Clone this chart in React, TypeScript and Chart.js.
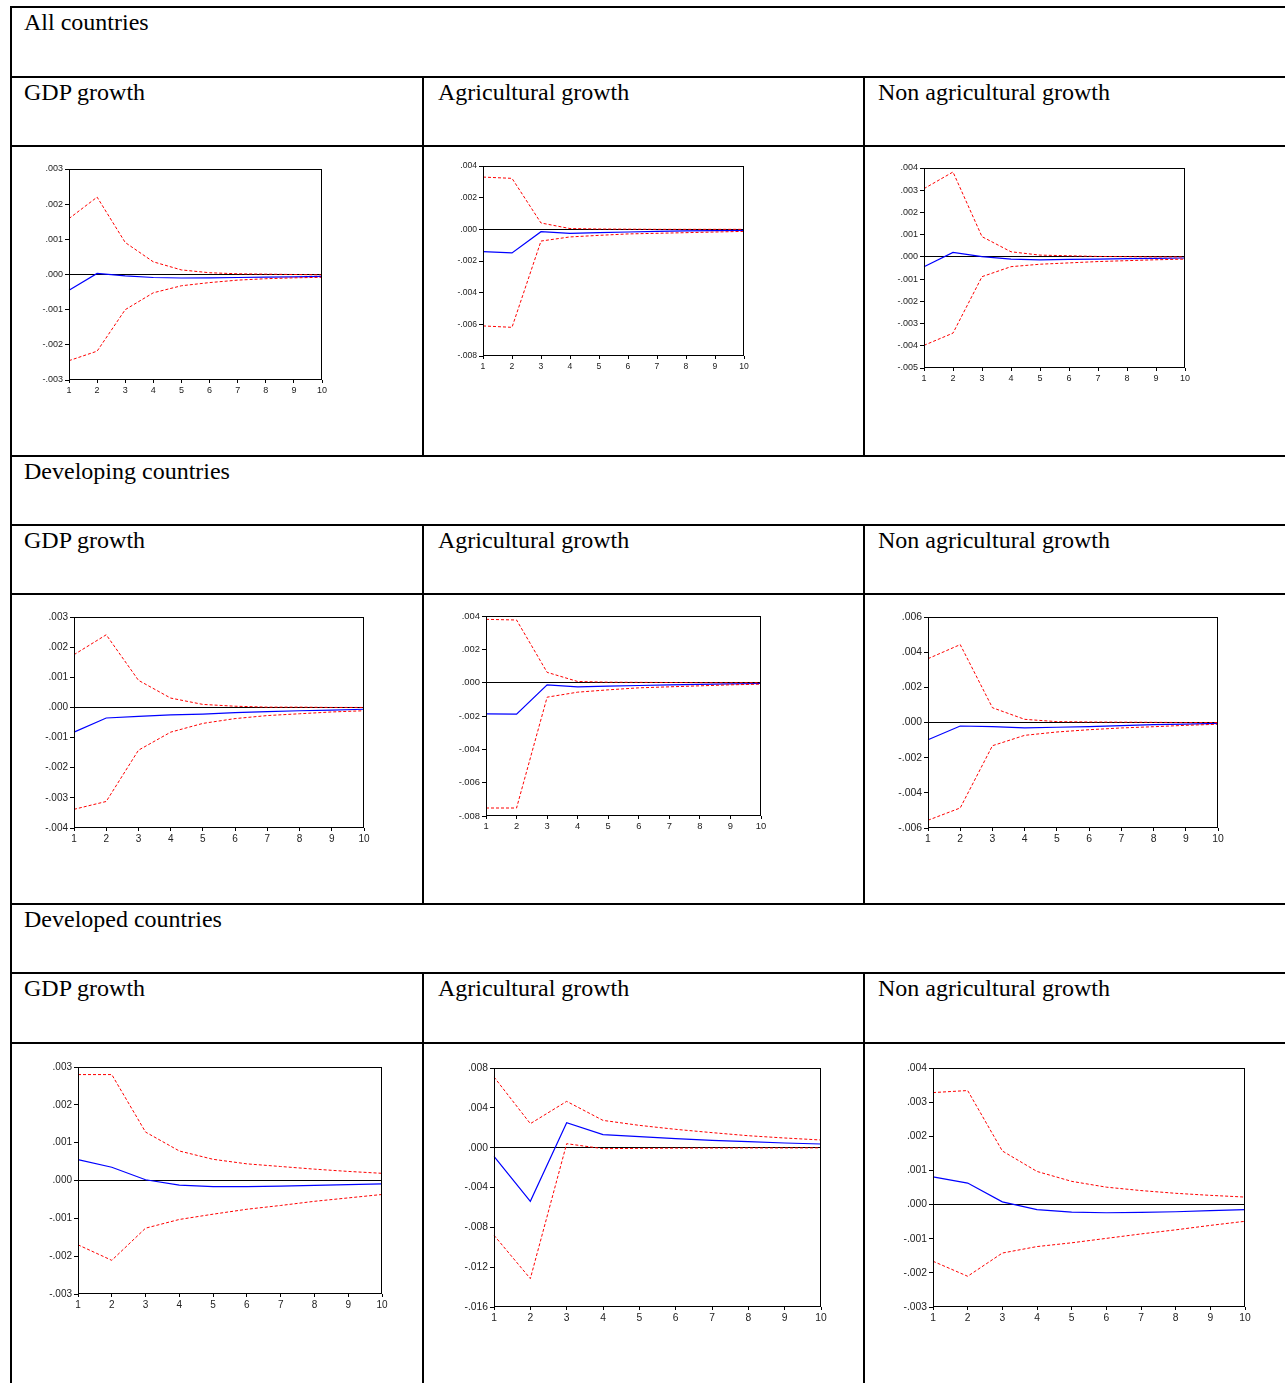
import React, { useEffect, useRef } from "react";
import { Chart, registerables } from "chart.js";

Chart.register(...registerables);

// ---------- DATA ----------
const periods = [1, 2, 3, 4, 5, 6, 7, 8, 9, 10];

const sectionTitles = ["All countries", "Developing countries", "Developed countries"];
const columnTitles = ["GDP growth", "Agricultural growth", "Non agricultural growth"];

// All countries
const allGdpResponse = [-0.00045, 0.00003, -0.00004, -0.000085, -0.0001, -0.000095, -0.000085, -0.000075, -0.000065, -0.000055];
const allGdpUpper = [0.00159, 0.0022, 0.00091, 0.00036, 0.00013, 0.00005, 0.00002, 0.00001, 0.0, -0.00001];
const allGdpLower = [-0.00245, -0.00218, -0.001, -0.00052, -0.00032, -0.00023, -0.00016, -0.00012, -0.000095, -0.00008];

const allAgriResponse = [-0.00141, -0.00149, -0.00015, -0.00025, -0.00021, -0.00017, -0.00013, -0.0001, -0.00008, -0.00006];
const allAgriUpper = [0.0033, 0.00322, 0.0004, 0.00005, 0.00002, 0.00001, 0.0, 0.0, 0.0, 0.0];
const allAgriLower = [-0.0061, -0.00619, -0.00074, -0.00048, -0.00038, -0.00029, -0.00025, -0.00021, -0.00017, -0.00013];

const allNonAgriResponse = [-0.00044, 0.0002, 0.00001, -0.0001, -0.00013, -0.00011, -0.0001, -0.00008, -0.00007, -0.00005];
const allNonAgriUpper = [0.00307, 0.00382, 0.00091, 0.00023, 0.00008, 0.00005, 0.00002, 0.00001, 0.0, 0.0];
const allNonAgriLower = [-0.00398, -0.00343, -0.00089, -0.00044, -0.00033, -0.00027, -0.00021, -0.00017, -0.00013, -0.0001];

// Developing countries
const devGdpResponse = [-0.00082, -0.00035, -0.0003, -0.00025, -0.00022, -0.00017, -0.00014, -0.00011, -0.00009, -0.00006];
const devGdpUpper = [0.00175, 0.00241, 0.0009, 0.00031, 0.0001, 0.00004, 0.00001, 0.00001, 0.0, 0.0];
const devGdpLower = [-0.00338, -0.00312, -0.00142, -0.00082, -0.00053, -0.00037, -0.00027, -0.00021, -0.00015, -0.00011];

const devAgriResponse = [-0.00187, -0.00189, -0.00013, -0.00025, -0.00021, -0.00017, -0.00013, -0.0001, -0.00007, -0.00005];
const devAgriUpper = [0.0038, 0.00376, 0.00062, 0.00007, 0.00003, 0.00002, 0.00001, 0.0, 0.0, 0.0];
const devAgriLower = [-0.00752, -0.00752, -0.00087, -0.00057, -0.00043, -0.00031, -0.00025, -0.00019, -0.00013, -0.00009];

const devNonAgriResponse = [-0.00098, -0.0002, -0.00024, -0.00031, -0.00027, -0.00024, -0.00018, -0.00012, -0.00009, -0.00005];
const devNonAgriUpper = [0.00363, 0.00443, 0.00084, 0.00018, 0.00005, 0.00003, 0.00002, 0.00001, 0.0, 0.0];
const devNonAgriLower = [-0.00556, -0.00486, -0.00132, -0.00073, -0.00054, -0.00041, -0.00031, -0.00024, -0.00016, -0.0001];

// Developed countries
const dvdGdpResponse = [0.00055, 0.00035, 0.00002, -0.00012, -0.00016, -0.00016, -0.00015, -0.00013, -0.00011, -0.00009];
const dvdGdpUpper = [0.0028, 0.0028, 0.00128, 0.00078, 0.00056, 0.00044, 0.00037, 0.0003, 0.00024, 0.00019];
const dvdGdpLower = [-0.0017, -0.00211, -0.00126, -0.00103, -0.00089, -0.00076, -0.00066, -0.00055, -0.00046, -0.00037];

const dvdAgriResponse = [-0.00087, -0.00539, 0.00251, 0.00131, 0.0011, 0.0009, 0.00074, 0.0006, 0.00047, 0.00037];
const dvdAgriUpper = [0.0071, 0.00241, 0.00465, 0.00274, 0.00224, 0.00184, 0.00151, 0.0012, 0.00097, 0.00077];
const dvdAgriLower = [-0.0088, -0.01315, 0.0004, -0.0001, -0.00007, -0.00005, -0.00004, -0.00003, -0.00003, -0.00002];

const dvdNonAgriResponse = [0.00081, 0.00063, 0.00008, -0.00015, -0.00022, -0.00024, -0.00023, -0.00021, -0.00018, -0.00015];
const dvdNonAgriUpper = [0.00328, 0.00334, 0.00157, 0.00097, 0.00068, 0.00051, 0.00041, 0.00033, 0.00027, 0.00022];
const dvdNonAgriLower = [-0.00166, -0.0021, -0.00142, -0.00123, -0.00112, -0.00099, -0.00086, -0.00074, -0.00061, -0.00049];

// y-axis ranges [min, max, step]
const allGdpAxis = [-0.003, 0.003, 0.001];
const allAgriAxis = [-0.008, 0.004, 0.002];
const allNonAgriAxis = [-0.005, 0.004, 0.001];
const devGdpAxis = [-0.004, 0.003, 0.001];
const devAgriAxis = [-0.008, 0.004, 0.002];
const devNonAgriAxis = [-0.006, 0.006, 0.002];
const dvdGdpAxis = [-0.003, 0.003, 0.001];
const dvdAgriAxis = [-0.016, 0.008, 0.004];
const dvdNonAgriAxis = [-0.003, 0.004, 0.001];

// ---------- LAYOUT ----------
type Box = { l: number; t: number; r: number; b: number; font: number };

const charts = [
  { box: { l: 69, t: 169, r: 322, b: 380, font: 9 }, axis: allGdpAxis, resp: allGdpResponse, up: allGdpUpper, lo: allGdpLower },
  { box: { l: 483, t: 166, r: 744, b: 356, font: 8.6 }, axis: allAgriAxis, resp: allAgriResponse, up: allAgriUpper, lo: allAgriLower },
  { box: { l: 924, t: 168, r: 1185, b: 368, font: 9 }, axis: allNonAgriAxis, resp: allNonAgriResponse, up: allNonAgriUpper, lo: allNonAgriLower },
  { box: { l: 74, t: 617, r: 364, b: 828, font: 10 }, axis: devGdpAxis, resp: devGdpResponse, up: devGdpUpper, lo: devGdpLower },
  { box: { l: 486, t: 616, r: 761, b: 816, font: 9.4 }, axis: devAgriAxis, resp: devAgriResponse, up: devAgriUpper, lo: devAgriLower },
  { box: { l: 928, t: 617, r: 1218, b: 828, font: 10.4 }, axis: devNonAgriAxis, resp: devNonAgriResponse, up: devNonAgriUpper, lo: devNonAgriLower },
  { box: { l: 78, t: 1067, r: 382, b: 1294, font: 10 }, axis: dvdGdpAxis, resp: dvdGdpResponse, up: dvdGdpUpper, lo: dvdGdpLower },
  { box: { l: 494, t: 1068, r: 821, b: 1307, font: 10.3 }, axis: dvdAgriAxis, resp: dvdAgriResponse, up: dvdAgriUpper, lo: dvdAgriLower },
  { box: { l: 933, t: 1068, r: 1245, b: 1307, font: 10.3 }, axis: dvdNonAgriAxis, resp: dvdNonAgriResponse, up: dvdNonAgriUpper, lo: dvdNonAgriLower },
];

const hLines = [6, 76, 145, 455, 524, 593, 903, 972, 1042];
const sectionTops = [6, 455, 903];
const headerTops = [76, 524, 972];
const colLines = [422, 863];
const colTextX = [24, 438, 878];
const vSegments = [
  [76, 455],
  [524, 903],
  [972, 1383],
];

const PAD_L = 50;
const PAD_T = 10;
const PAD_R = 14;
const PAD_B = 22;

const fmt = (v: number) => {
  if (Math.abs(v) < 1e-9) return ".000";
  return v.toFixed(3).replace("0.", ".");
};

const frameBox = {
  id: "frameBox",
  afterDatasetsDraw(chart: any) {
    const { ctx, chartArea: a } = chart;
    ctx.save();
    ctx.strokeStyle = "#000";
    ctx.lineWidth = 1;
    ctx.strokeRect(Math.round(a.left) + 0.5, Math.round(a.top) + 0.5, Math.round(a.right - a.left) - 1, Math.round(a.bottom - a.top) - 1);
    ctx.restore();
  },
};

function IrfChart({ spec }: { spec: any }) {
  const ref = useRef<HTMLCanvasElement | null>(null);
  const box: Box = spec.box;
  const w = box.r - box.l + PAD_L + PAD_R;
  const h = box.b - box.t + PAD_T + PAD_B;

  useEffect(() => {
    if (!ref.current) return;
    const font = { family: "'Liberation Sans', Arial, sans-serif", size: box.font };
    const chart = new Chart(ref.current, {
      type: "line",
      data: {
        labels: periods.map(String),
        datasets: [
          { data: spec.up, borderColor: "#ff0000", borderWidth: 1, borderDash: [3, 2], pointRadius: 0, tension: 0, fill: false },
          { data: spec.lo, borderColor: "#ff0000", borderWidth: 1, borderDash: [3, 2], pointRadius: 0, tension: 0, fill: false },
          { data: spec.resp, borderColor: "#0000ff", borderWidth: 1.2, pointRadius: 0, tension: 0, fill: false },
        ],
      },
      options: {
        animation: false,
        responsive: false,
        devicePixelRatio: 1,
        layout: { padding: { left: 0, top: PAD_T, right: PAD_R, bottom: 0 } },
        plugins: { legend: { display: false }, tooltip: { enabled: false } },
        scales: {
          x: {
            type: "category",
            offset: false,
            border: { display: false },
            grid: { drawOnChartArea: false, tickColor: "#000", tickLength: 3, offset: false },
            ticks: { autoSkip: false, maxRotation: 0, padding: 2, color: "#222", font },
            afterFit: (s: any) => {
              s.height = PAD_B;
            },
          },
          y: {
            type: "linear",
            min: spec.axis[0],
            max: spec.axis[1],
            border: { display: false },
            grid: {
              drawOnChartArea: true,
              color: (c: any) => (c.tick && Math.abs(c.tick.value) < 1e-9 ? "#000" : "rgba(0,0,0,0)"),
              tickColor: "#000",
              tickLength: 4,
              lineWidth: 1,
            },
            ticks: { stepSize: spec.axis[2], autoSkip: false, padding: 2, color: "#222", font, callback: (v: any) => fmt(Number(v)) },
            afterFit: (s: any) => {
              s.width = PAD_L;
            },
          },
        },
      } as any,
      plugins: [frameBox],
    });
    return () => chart.destroy();
  }, []);

  return (
    <canvas
      ref={ref}
      width={w}
      height={h}
      style={{ position: "absolute", left: box.l - PAD_L, top: box.t - PAD_T, width: w, height: h }}
    />
  );
}

const textStyle: React.CSSProperties = {
  position: "absolute",
  fontFamily: "'Liberation Serif', 'Times New Roman', serif",
  fontSize: 24,
  lineHeight: "24px",
  color: "#000",
  whiteSpace: "nowrap",
};

export default function App() {
  return (
    <div style={{ position: "fixed", left: 0, top: 0, width: 1285, height: 1383, background: "#fff", overflow: "hidden" }}>
      {hLines.map((y, i) => (
        <div key={"h" + i} style={{ position: "absolute", left: 10, top: y, width: 1285, height: 2, background: "#000" }} />
      ))}
      <div style={{ position: "absolute", left: 10, top: 6, width: 2, height: 1383, background: "#000" }} />
      {colLines.map((x, i) =>
        vSegments.map(([a, b], j) => (
          <div key={"v" + i + "-" + j} style={{ position: "absolute", left: x, top: a, width: 2, height: b - a, background: "#000" }} />
        ))
      )}
      {sectionTitles.map((t, i) => (
        <div key={"s" + i} style={{ ...textStyle, left: colTextX[0], top: sectionTops[i] + 4 }}>
          {t}
        </div>
      ))}
      {headerTops.map((y, i) =>
        columnTitles.map((t, j) => (
          <div key={"c" + i + "-" + j} style={{ ...textStyle, left: colTextX[j], top: y + 4 }}>
            {t}
          </div>
        ))
      )}
      {charts.map((c, i) => (
        <IrfChart key={i} spec={c} />
      ))}
    </div>
  );
}
